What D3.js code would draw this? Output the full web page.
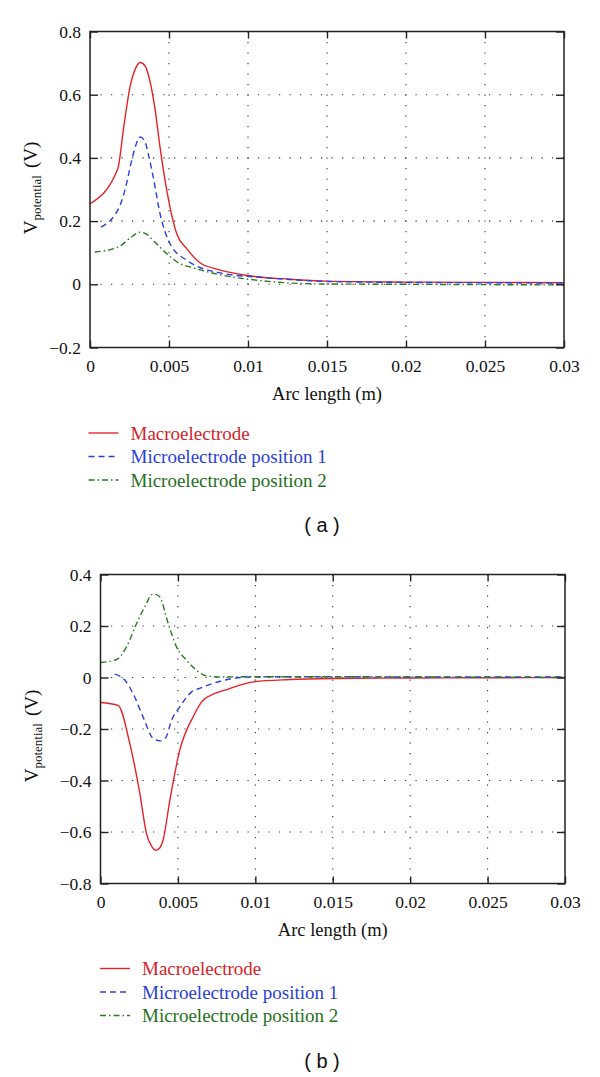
<!DOCTYPE html>
<html><head><meta charset="utf-8">
<script src="https://cdn.jsdelivr.net/npm/d3@7"></script>
<style>body{margin:0;background:#fff}svg{display:block}</style>
</head><body>
<svg id="chart" width="600" height="1077"></svg>
<script>
// ---------- Data ----------
const seriesNames = ["Macroelectrode", "Microelectrode position 1", "Microelectrode position 2"];
const xTicks = [0, 0.005, 0.01, 0.015, 0.02, 0.025, 0.03];
const yTicksA = [-0.2, 0, 0.2, 0.4, 0.6, 0.8];
const yTicksB = [-0.8, -0.6, -0.4, -0.2, 0, 0.2, 0.4];

// Panel (a)
const aMacroX = [0, 0.00175, 0.00215, 0.00253, 0.0029, 0.00317, 0.0035, 0.00373, 0.0041, 0.00443, 0.00486, 0.00549, 0.00612, 0.00696, 0.00802, 0.00992, 0.01266, 0.015, 0.02, 0.025, 0.03];
const aMacroY = [0.255, 0.364, 0.503, 0.624, 0.685, 0.702, 0.69, 0.656, 0.56, 0.435, 0.297, 0.160, 0.113, 0.068, 0.048, 0.028, 0.016, 0.010, 0.007, 0.006, 0.005];
const aMicro1X = [0.0007, 0.0019, 0.00222, 0.00264, 0.0029, 0.00317, 0.00345, 0.0037, 0.004, 0.00443, 0.00506, 0.00612, 0.00844, 0.01055, 0.01266, 0.015, 0.02, 0.025, 0.03];
const aMicro1Y = [0.181, 0.250, 0.300, 0.392, 0.44, 0.466, 0.455, 0.41, 0.34, 0.224, 0.129, 0.076, 0.034, 0.023, 0.015, 0.009, 0.006, 0.005, 0.004];
const aMicro2X = [0.0003, 0.0018, 0.0025, 0.00317, 0.0036, 0.004, 0.00486, 0.0057, 0.00633, 0.00844, 0.01055, 0.0131, 0.015, 0.02, 0.025, 0.03];
const aMicro2Y = [0.102, 0.118, 0.145, 0.165, 0.158, 0.139, 0.097, 0.065, 0.055, 0.028, 0.013, 0.003, 0.001, 0.000, -0.001, -0.002];

// Panel (b)
const bMacroX = [0, 0.00114, 0.00189, 0.00254, 0.00297, 0.0033, 0.00357, 0.00385, 0.00404, 0.00448, 0.00512, 0.00598, 0.00663, 0.00835, 0.00986, 0.01223, 0.015, 0.02, 0.025, 0.03];
const bMacroY = [-0.097, -0.108, -0.256, -0.45, -0.606, -0.655, -0.671, -0.66, -0.632, -0.476, -0.282, -0.153, -0.088, -0.043, -0.017, -0.008, -0.004, -0.002, -0.001, 0.000];
const bMicro1X = [0.00092, 0.00157, 0.0021, 0.00275, 0.0034, 0.00383, 0.0042, 0.00459, 0.00512, 0.0059, 0.0064, 0.00727, 0.00835, 0.00964, 0.012, 0.015, 0.02, 0.025, 0.03];
const bMicro1Y = [0.013, -0.010, -0.062, -0.153, -0.237, -0.246, -0.235, -0.166, -0.114, -0.055, -0.042, -0.023, -0.006, 0.002, 0.003, 0.003, 0.002, 0.002, 0.002];
const bMicro2X = [0, 0.00103, 0.00168, 0.00233, 0.00297, 0.0033, 0.0036, 0.00383, 0.00437, 0.00491, 0.00556, 0.0062, 0.00685, 0.00771, 0.01, 0.015, 0.02, 0.025, 0.03];
const bMicro2Y = [0.058, 0.070, 0.119, 0.210, 0.287, 0.322, 0.322, 0.313, 0.210, 0.119, 0.067, 0.028, 0.006, 0.002, 0.003, 0.003, 0.002, 0.001, 0.000];

// ---------- Styles ----------
const colors = ["#e3232a", "#2c3fdc", "#2a7a22"];
const textColors = ["#d42328", "#2a3fd2", "#247021"];
const dashes = [null, "6,4", "6,3,1.5,3"];
const serif = "'Liberation Serif','Times New Roman',serif";
const sans = "'Liberation Sans','DejaVu Sans',Arial,sans-serif";

const svg = d3.select("#chart");
svg.append("rect").attr("width", 600).attr("height", 1077).attr("fill", "#fff");

function zip(xs, ys) { return xs.map((x, i) => [x, ys[i]]); }

function panel(cfg) {
  const x = d3.scaleLinear().domain([0, 0.03]).range([cfg.left, cfg.right]);
  const y = d3.scaleLinear().domain(cfg.yDomain).range([cfg.bottom, cfg.top]);
  const g = svg.append("g");
  const fmt = d3.format("~g");

  // grid
  const gx = xTicks.slice(1, -1), gy = cfg.yTicks.slice(1, -1);
  g.selectAll(".vg").data(gx).join("line")
    .attr("x1", d => x(d)).attr("x2", d => x(d)).attr("y1", cfg.top).attr("y2", cfg.bottom)
    .attr("stroke", "#333").attr("stroke-width", 1.1).attr("stroke-dasharray", "1.2,9.3");
  g.selectAll(".hg").data(gy).join("line")
    .attr("x1", cfg.left).attr("x2", cfg.right).attr("y1", d => y(d)).attr("y2", d => y(d))
    .attr("stroke", "#333").attr("stroke-width", 1.1).attr("stroke-dasharray", "1.2,9.3");

  // lines
  const line = d3.line().x(d => x(d[0])).y(d => y(d[1])).curve(d3.curveMonotoneX);
  cfg.series.forEach((s, i) => {
    g.append("path").datum(s).attr("d", line).attr("fill", "none")
      .attr("stroke", colors[i]).attr("stroke-width", 1.4)
      .attr("stroke-dasharray", dashes[i]);
  });

  // axes
  const axStyle = sel => {
    sel.select(".domain").remove();
    sel.selectAll(".tick line").attr("stroke", "#222").attr("stroke-width", 1.4);
    sel.selectAll("text").attr("font-family", serif).attr("font-size", 17.5).attr("fill", "#111");
  };
  g.append("g").attr("transform", `translate(0,${cfg.bottom})`)
    .call(d3.axisBottom(x).tickValues(xTicks).tickSize(-7).tickPadding(12).tickFormat(fmt)).call(axStyle);
  g.append("g").attr("transform", `translate(0,${cfg.top})`)
    .call(d3.axisTop(x).tickValues(xTicks).tickSize(-7).tickFormat("")).call(axStyle);
  g.append("g").attr("transform", `translate(${cfg.left},0)`)
    .call(d3.axisLeft(y).tickValues(cfg.yTicks).tickSize(-8).tickPadding(9).tickFormat(fmt)).call(axStyle);
  g.append("g").attr("transform", `translate(${cfg.right},0)`)
    .call(d3.axisRight(y).tickValues(cfg.yTicks).tickSize(-8).tickFormat("")).call(axStyle);

  g.append("rect").attr("x", cfg.left).attr("y", cfg.top)
    .attr("width", cfg.right - cfg.left).attr("height", cfg.bottom - cfg.top)
    .attr("fill", "none").attr("stroke", "#222").attr("stroke-width", 1.5);

  // axis titles
  g.append("text").attr("x", (cfg.left + cfg.right) / 2).attr("y", cfg.bottom + 52)
    .attr("text-anchor", "middle").attr("font-family", serif).attr("font-size", 18.5).attr("fill", "#111")
    .text("Arc length (m)");
  const yl = g.append("text")
    .attr("transform", `translate(${cfg.ylabX},${cfg.ylabY}) rotate(-90)`)
    .attr("text-anchor", "middle").attr("font-family", serif).attr("fill", "#111").attr("font-size", 19);
  yl.append("tspan").text("V");
  yl.append("tspan").attr("font-size", 13).attr("dy", 4).text("potential");
  yl.append("tspan").attr("dy", -4).attr("dx", 7).text("(V)");

  // legend
  seriesNames.forEach((n, i) => {
    const ly = cfg.legY + i * 23.5;
    g.append("line").attr("x1", cfg.legX).attr("x2", cfg.legX + 30).attr("y1", ly).attr("y2", ly)
      .attr("stroke", colors[i]).attr("stroke-width", 1.4).attr("stroke-dasharray", dashes[i]);
    g.append("text").attr("x", cfg.legX + 42).attr("y", ly).attr("dy", "0.35em")
      .attr("font-family", serif).attr("font-size", 19).attr("fill", textColors[i]).text(n);
  });

  g.append("text").attr("x", cfg.capX).attr("y", cfg.capY).attr("text-anchor", "middle")
    .attr("font-family", sans).attr("font-size", 20).attr("fill", "#111")
    .attr("xml:space", "preserve").text(cfg.caption);
}

panel({
  left: 90, right: 564, top: 31.5, bottom: 347.5,
  yDomain: [-0.2, 0.8], yTicks: yTicksA,
  series: [zip(aMacroX, aMacroY), zip(aMicro1X, aMicro1Y), zip(aMicro2X, aMicro2Y)],
  ylabX: 37, ylabY: 188, legX: 88.5, legY: 433,
  caption: "( a )", capX: 322, capY: 532
});
panel({
  left: 100.5, right: 565, top: 574.5, bottom: 883.5,
  yDomain: [-0.8, 0.4], yTicks: yTicksB,
  series: [zip(bMacroX, bMacroY), zip(bMicro1X, bMicro1Y), zip(bMicro2X, bMicro2Y)],
  ylabX: 38, ylabY: 736, legX: 100, legY: 968.5,
  caption: "( b )", capX: 322, capY: 1068
});
</script>
</body></html>
